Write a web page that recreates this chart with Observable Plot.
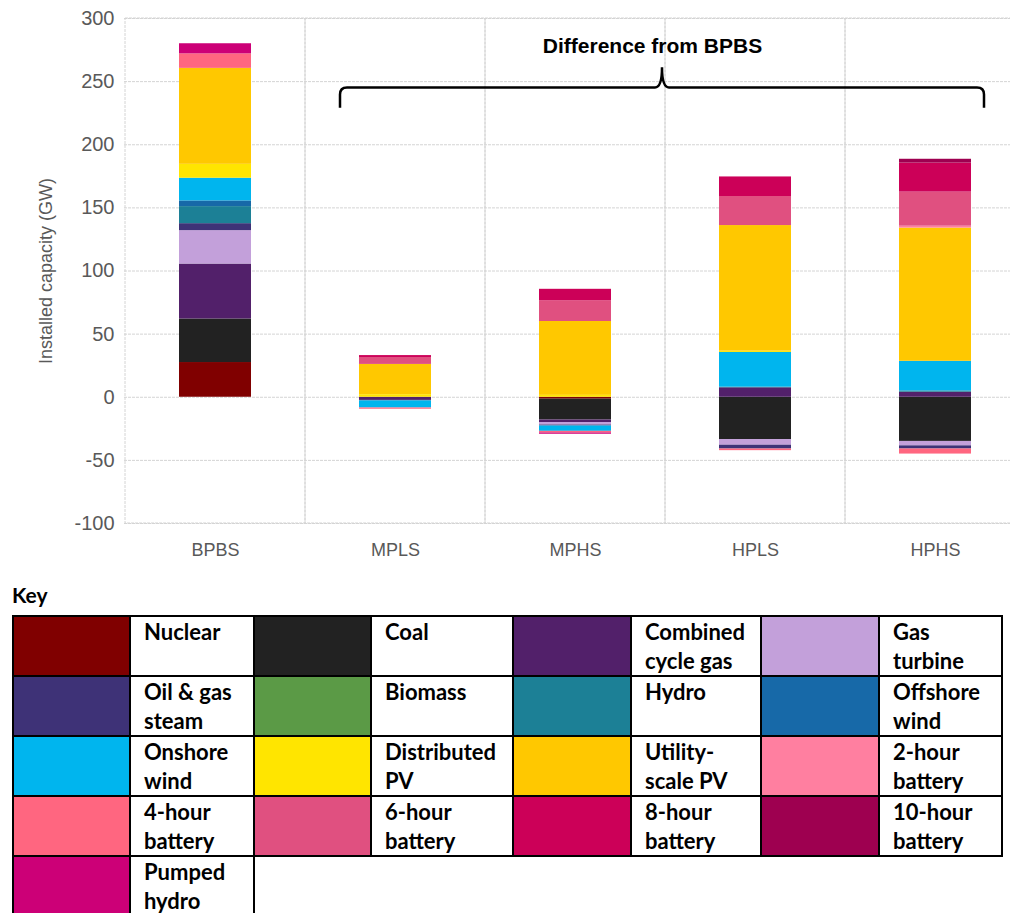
<!DOCTYPE html>
<html><head><meta charset="utf-8">
<script src="https://cdn.jsdelivr.net/npm/d3@7"></script>
<script src="https://cdn.jsdelivr.net/npm/@observablehq/plot@0.6"></script>
<style>
body{margin:0;background:#fff;width:1010px;height:913px;overflow:hidden;position:relative;}
#chart{position:absolute;left:0;top:0;}
#keytitle{position:absolute;left:12px;top:582px;font:bold 21px Lato,"Open Sans",sans-serif;color:#000;}
#key{position:absolute;left:12px;top:615px;border-collapse:collapse;table-layout:fixed;}
#key td{border:2px solid #000;height:57px;padding:0;vertical-align:top;font:bold 22px/29px Lato,"Open Sans",sans-serif;color:#000;box-sizing:border-box;}
#key td.lab{padding:0 0 0 13px;}
#key td.empty{border:none;}
</style></head><body>
<div id="chart"></div>
<div id="keytitle">Key</div>
<table id="key"></table>
<script>
// Categories
const scenarios = ["BPBS", "MPLS", "MPHS", "HPLS", "HPHS"];
const technologies = ["Nuclear", "Coal", "Combined cycle gas", "Gas turbine", "Oil & gas steam",
  "Biomass", "Hydro", "Offshore wind", "Onshore wind", "Distributed PV", "Utility-scale PV",
  "2-hour battery", "4-hour battery", "6-hour battery", "8-hour battery", "10-hour battery", "Pumped hydro"];
const keyLabels = ["Nuclear", "Coal", "Combined<br>cycle gas", "Gas<br>turbine", "Oil & gas<br>steam",
  "Biomass", "Hydro", "Offshore<br>wind", "Onshore<br>wind", "Distributed<br>PV", "Utility-<br>scale PV",
  "2-hour<br>battery", "4-hour<br>battery", "6-hour<br>battery", "8-hour<br>battery", "10-hour<br>battery", "Pumped<br>hydro"];
const colors = ["#800000", "#222222", "#52206A", "#C3A0DA", "#3E3277",
  "#5B9A46", "#1C8096", "#1769A8", "#00B5EE", "#FFE500", "#FFC800",
  "#FF7FA0", "#FF6680", "#E05080", "#CC0058", "#9E0050", "#CC0077"];

// Installed capacity (GW), values in technology order
const valuesBPBS = [27.5, 34.5, 43.5, 26.5, 5.5, 0, 13.5, 4.5, 18, 11, 76, 0, 11.5, 0, 0, 0, 8];
// Differences from BPBS (GW)
const valuesMPLS = [0, 0, -2.5, 0, 0, 0, 0, -0.5, -5.5, 2, 24, 0, -1, 5.5, 1.5, 0, 0];
const valuesMPHS = [-1.5, -16.5, -2, -2, -0.8, 0, 0, 0, -4.2, 1.5, 58.5, 0, -1.3, 16.5, 9, 0, -1];
const valuesHPLS = [0, -33.5, 7.5, -4.5, -3, 0, 0.5, 0, 27.5, 1, 99.5, 0, -1.3, 23, 15.5, 0, 0];
const valuesHPHS = [0, -35, 4, -3.5, -2.5, 0, 1, 0, 23.5, 0, 105.5, 1.5, -4, 27, 23, 3, 0];

const yTicks = [-100, -50, 0, 50, 100, 150, 200, 250, 300];
const yLabel = "Installed capacity (GW)";
const annotation = "Difference from BPBS";

const series = [valuesBPBS, valuesMPLS, valuesMPHS, valuesHPLS, valuesHPHS];
const rows = scenarios.flatMap((s, i) => technologies.map((t, j) => ({scenario: s, tech: t, value: series[i][j]})))
  .filter(d => d.value !== 0);

const brace = (index, scales) => {
  const x = scales.x, y = scales.y;
  const xl = x("MPLS") + 35, xm = x("HPLS") - 3, xr = x("HPHS") + 139;
  const yl = y(245), ye = y(229), yp = y(261);
  const r = 7;
  const g = d3.create("svg:g");
  g.append("path")
    .attr("fill", "none").attr("stroke", "#000").attr("stroke-width", 2.5)
    .attr("d", `M${xl},${ye} L${xl},${yl + r} Q${xl},${yl} ${xl + r},${yl} L${xm - r},${yl} Q${xm},${yl} ${xm},${yp} Q${xm},${yl} ${xm + r},${yl} L${xr - r},${yl} Q${xr},${yl} ${xr},${yl + r} L${xr},${ye}`);
  return g.node();
};

const chart = Plot.plot({
  width: 1010,
  height: 578,
  marginTop: 18,
  marginBottom: 55,
  marginLeft: 124,
  marginRight: 0,
  x: {domain: scenarios, range: [124, 1025], padding: 0, label: null},
  y: {domain: [-100, 300], label: null},
  color: {domain: technologies, range: colors},
  style: {fontFamily: "'Liberation Sans', Arial, sans-serif", fontSize: "18px", color: "#595959", background: "white", overflow: "hidden"},
  marks: [
    Plot.gridY(yTicks, {stroke: "#d4d4d4", strokeOpacity: 1, strokeDasharray: "3,1"}),
    Plot.barY(scenarios, {x: d => d, y1: () => -100, y2: () => 300, fill: "none", stroke: "#d4d4d4", strokeDasharray: "3,1"}),
    Plot.barY(rows, {x: "scenario", y: "value", fill: "tech", insetLeft: 54, insetRight: 54}),
    Plot.axisY(yTicks, {tickSize: 0, tickPadding: 10, label: null, tickFormat: d => String(d), fill: "#595959", fontSize: 20, style: {letterSpacing: "0.5px"}}),
    Plot.text([yLabel], {frameAnchor: "left", rotate: -90, dx: -78, textAnchor: "middle", text: d => d, fill: "#595959", fontSize: 18}),
    Plot.axisX({tickSize: 0, tickPadding: 20, label: null, fill: "#595959", fontSize: 18}),
    brace,
    Plot.text([annotation], {x: () => "HPLS", y: () => 278, text: d => d, dx: -103, fontWeight: "bold", fontSize: 21, fill: "#000"})
  ]
});
document.getElementById("chart").appendChild(chart);

// Key table
const table = document.getElementById("key");
const colWidths = [117, 124, 117, 142, 118, 130, 118, 123];
const cg = document.createElement("colgroup");
colWidths.forEach(w => { const c = document.createElement("col"); c.style.width = w + "px"; cg.appendChild(c); });
table.appendChild(cg);
for (let r = 0; r < Math.ceil(technologies.length / 4); r++) {
  const tr = document.createElement("tr");
  for (let c = 0; c < 4; c++) {
    const i = r * 4 + c;
    const sw = document.createElement("td");
    const lb = document.createElement("td");
    if (i < technologies.length) {
      sw.style.background = colors[i];
      lb.className = "lab";
      lb.innerHTML = keyLabels[i];
    } else {
      sw.className = "empty"; lb.className = "empty";
    }
    tr.appendChild(sw); tr.appendChild(lb);
  }
  table.appendChild(tr);
}
</script>
</body></html>
